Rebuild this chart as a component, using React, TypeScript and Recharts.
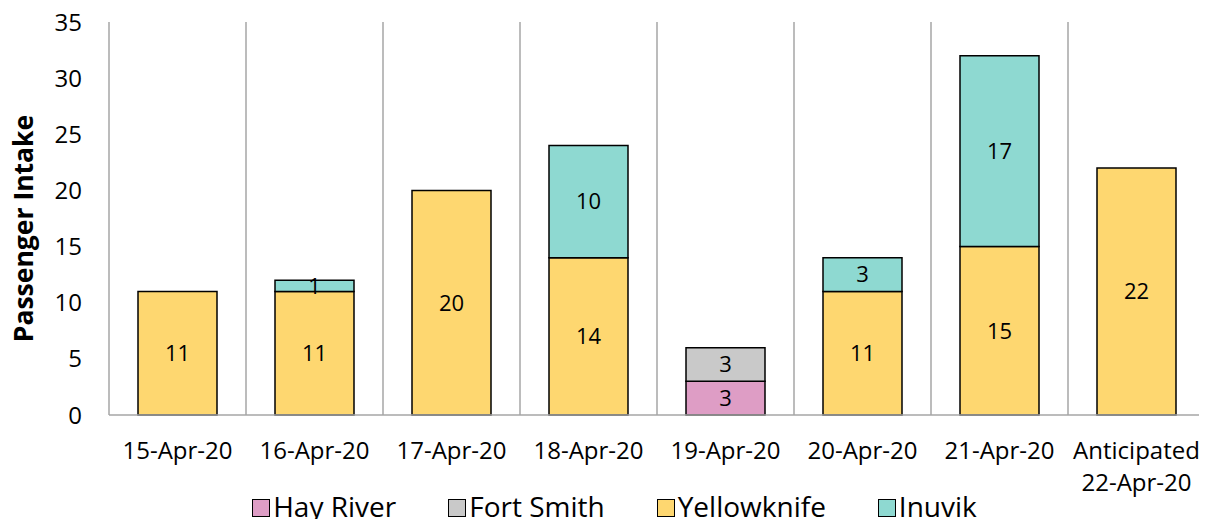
import React from "react";
import {
  BarChart,
  Bar,
  XAxis,
  YAxis,
  CartesianGrid,
  Legend,
  LabelList,
} from "recharts";

// ─── Data ─────────────────────────────────────────────────────────────────────
const categories = [
  "15-Apr-20",
  "16-Apr-20",
  "17-Apr-20",
  "18-Apr-20",
  "19-Apr-20",
  "20-Apr-20",
  "21-Apr-20",
  "Anticipated\n22-Apr-20",
];
const hayRiver = [null, null, null, null, 3, null, null, null];
const fortSmith = [null, null, null, null, 3, null, null, null];
const yellowknife = [11, 11, 20, 14, null, 11, 15, 22];
const inuvik = [null, 1, null, 10, null, 3, 17, null];
const yTicks = [0, 5, 10, 15, 20, 25, 30, 35];

const series = [
  { key: "hayRiver", name: "Hay River", color: "#DE9DC5" },
  { key: "fortSmith", name: "Fort Smith", color: "#C9C9C9" },
  { key: "yellowknife", name: "Yellowknife", color: "#FED770" },
  { key: "inuvik", name: "Inuvik", color: "#8ED9D1" },
];

const data = categories.map((day, i) => ({
  day,
  hayRiver: hayRiver[i],
  fortSmith: fortSmith[i],
  yellowknife: yellowknife[i],
  inuvik: inuvik[i],
}));

const FONT = "'Open Sans', sans-serif";
const GRID = "#A6A6A6";

// ─── Axis tick with line breaks ───────────────────────────────────────────────
function DayTick({ x, y, payload }: any) {
  const lines = String(payload.value).split("\n");
  return (
    <text x={x} y={y} textAnchor="middle" fill="#000" fontSize={24} fontFamily={FONT}>
      {lines.map((line, i) => (
        <tspan key={i} x={x} dy={i === 0 ? 36 : 32}>
          {line}
        </tspan>
      ))}
    </text>
  );
}

// ─── Y axis title ─────────────────────────────────────────────────────────────
function YTitle({ viewBox }: any) {
  const cx = 23;
  const cy = viewBox.y + viewBox.height / 2 + 10;
  return (
    <text
      x={cx}
      y={cy}
      transform={`rotate(-90, ${cx}, ${cy})`}
      textAnchor="middle"
      dominantBaseline="central"
      fontFamily={FONT}
      fontSize={26.5}
      fontWeight={700}
      fill="#000"
    >
      Passenger Intake
    </text>
  );
}

// ─── Legend ───────────────────────────────────────────────────────────────────
function ChartLegend() {
  return (
    <div
      style={{
        display: "flex",
        justifyContent: "center",
        gap: 52,
        paddingLeft: 22,
        fontFamily: FONT,
        fontSize: 28,
        lineHeight: "32px",
        color: "#000",
      }}
    >
      {series.map((s) => (
        <div key={s.key} style={{ display: "flex", alignItems: "center", gap: 3 }}>
          <span
            style={{
              width: 16,
              height: 16,
              background: s.color,
              border: "1.5px solid #000",
              display: "inline-block",
              marginTop: 3,
            }}
          />
          <span>{s.name}</span>
        </div>
      ))}
    </div>
  );
}

const hideEmpty = (v: any) => (v ? v : "");

// ─── Component ────────────────────────────────────────────────────────────────
export default function App() {
  return (
    <div style={{ margin: -8, width: 1207, height: 527, background: "#fff", position: "relative", overflow: "hidden" }}>
      <BarChart
        width={1207}
        height={527}
        data={data}
        margin={{ top: 22, right: 2, left: 0, bottom: 37 }}
        barSize={79}
      >
        <CartesianGrid
          stroke={GRID}
          strokeWidth={1.5}
          horizontal={false}
          verticalCoordinatesGenerator={({ offset }: any) =>
            Array.from(
              { length: categories.length + 1 },
              (_, i) => offset.left + (i * offset.width) / categories.length
            )
          }
        />
        <XAxis
          dataKey="day"
          interval={0}
          tickLine={false}
          axisLine={{ stroke: GRID, strokeWidth: 1.5 }}
          tick={<DayTick />}
          height={75}
        />
        <YAxis
          domain={[0, 35]}
          ticks={yTicks}
          width={109}
          tickLine={false}
          axisLine={false}
          tick={{ fill: "#000", fontSize: 24, fontFamily: FONT }}
          tickMargin={21}
          label={<YTitle />}
        />
        <Legend
          layout="vertical"
          align="center"
          verticalAlign="middle"
          wrapperStyle={{ top: 490, left: 0, width: 1207 }}
          content={<ChartLegend />}
        />
        {series.map((s) => (
          <Bar
            key={s.key}
            dataKey={s.key}
            name={s.name}
            stackId="a"
            fill={s.color}
            stroke="#000"
            strokeWidth={1.5}
            isAnimationActive={false}
          >
            <LabelList
              dataKey={s.key}
              position="center"
              formatter={hideEmpty}
              fill="#000"
              fontSize={22}
              fontFamily={FONT}
            />
          </Bar>
        ))}
      </BarChart>
    </div>
  );
}
